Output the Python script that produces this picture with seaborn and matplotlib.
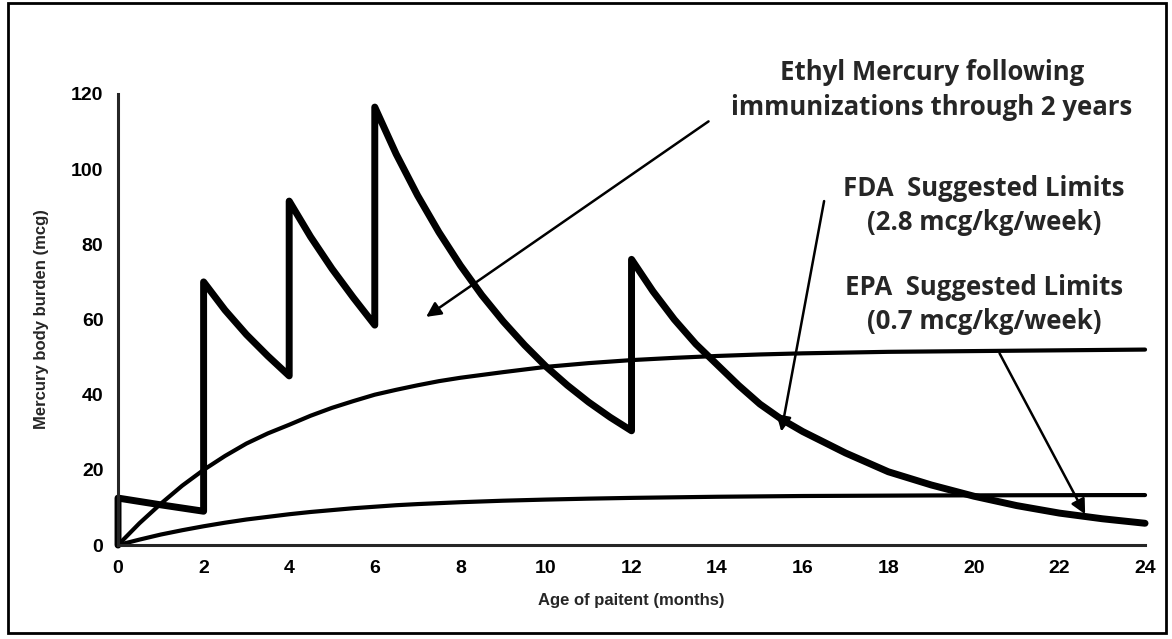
import seaborn as sns
import matplotlib.pyplot as plt
from matplotlib.patches import Rectangle

# ethyl mercury burden (vertical jumps at each immunization)
ethyl_months = [0, 0, 1, 2, 2, 2.5, 3, 3.5, 4, 4, 4.5, 5, 5.5, 6, 6, 6.5, 7, 7.5, 8, 8.5, 9, 9.5,
                10, 10.5, 11, 11.5, 12, 12, 12.5, 13, 13.5, 14, 14.5, 15, 15.5, 16, 17, 18,
                19, 20, 21, 22, 23, 24]
ethyl_mcg = [0, 12.5, 10.7, 9, 70, 62.5, 56, 50.3, 45, 91.5, 82, 73.5, 65.8, 58.5, 116.5, 104, 93,
             83.2, 74.4, 66.5, 59.5, 53.2, 47.5, 42.5, 38, 34, 30.4, 76, 67.5, 60, 53.5, 48,
             42.5, 37.5, 33.5, 30.2, 24.5, 19.5, 16, 13, 10.5, 8.5, 7, 5.8]

# suggested limit curves
limit_months = [0, 0.5, 1, 1.5, 2, 2.5, 3, 3.5, 4, 4.5, 5, 5.5, 6, 6.5, 7, 7.5, 8,
                9, 10, 11, 12, 13, 14, 15, 16, 17, 18, 19, 20, 21, 22, 23, 24]
fda_mcg = [0, 5.8, 11, 15.8, 20, 23.7, 27, 29.7, 32, 34.4, 36.5, 38.3, 40, 41.3, 42.5, 43.6, 44.5,
           46, 47.4, 48.4, 49.2, 49.8, 50.3, 50.7, 51, 51.2, 51.4, 51.5, 51.6, 51.7, 51.8, 51.9, 52]
epa_mcg = [0, 1.45, 2.8, 3.95, 5, 5.95, 6.8, 7.5, 8.2, 8.8, 9.3, 9.8, 10.2, 10.6, 10.9, 11.15, 11.4,
           11.8, 12.1, 12.35, 12.55, 12.7, 12.85, 12.95, 13.05, 13.1, 13.15, 13.2, 13.22, 13.25,
           13.27, 13.29, 13.3]

xticks = list(range(0, 25, 2))
yticks = list(range(0, 121, 20))

sns.set_style('white')
tick_font = ['Liberation Sans Narrow', 'Liberation Sans', 'DejaVu Sans']
note_font = ['Open Sans', 'DejaVu Sans']

fig = plt.figure(figsize=(11.72, 6.39), dpi=100)
ax = fig.add_axes([0.1007, 0.147, 0.8763, 0.706])

sns.lineplot(x=limit_months, y=fda_mcg, ax=ax, color='black', lw=3, clip_on=False,
             solid_joinstyle='round')
sns.lineplot(x=limit_months, y=epa_mcg, ax=ax, color='black', lw=3, clip_on=False,
             solid_joinstyle='round')
sns.lineplot(x=ethyl_months, y=ethyl_mcg, ax=ax, color='black', lw=5,
             estimator=None, sort=False, clip_on=False, solid_joinstyle='round')

ax.set_xlim(0, 24)
ax.set_ylim(0, 120)
ax.set_xticks(xticks)
ax.set_yticks(yticks)
sns.despine(ax=ax)
for s in ['left', 'bottom']:
    ax.spines[s].set_linewidth(2.2)
ax.tick_params(direction='inout', length=9, width=2, pad=6, colors='black')
for lab in ax.get_xticklabels() + ax.get_yticklabels():
    lab.set_family(tick_font)
    lab.set_fontweight('bold')
    lab.set_fontsize(14)

ax.set_xlabel('Age of paitent (months)', family=tick_font, fontweight='bold', fontsize=12, labelpad=12)
ax.set_ylabel('Mercury body burden (mcg)', family=tick_font, fontweight='bold', fontsize=12, labelpad=16)

# callout labels
note = dict(ha='center', va='center', fontsize=18.5, family=note_font, fontweight='bold', linespacing=1.35)
fig.text(0.795, 0.859, 'Ethyl Mercury following\nimmunizations through 2 years', **note)
fig.text(0.8396, 0.678, 'FDA  Suggested Limits\n(2.8 mcg/kg/week)', **note)
fig.text(0.8396, 0.523, 'EPA  Suggested Limits\n(0.7 mcg/kg/week)', **note)

arrow = dict(arrowstyle='-|>', color='black', lw=1.8, mutation_scale=22, shrinkA=0, shrinkB=0)
ax.annotate('', xy=(7.2, 60.7), xytext=(13.8, 112.7), arrowprops=arrow, annotation_clip=False)
ax.annotate('', xy=(15.5, 30.2), xytext=(16.5, 91.5), arrowprops=arrow, annotation_clip=False)
ax.annotate('', xy=(22.6, 8.2), xytext=(20.6, 51), arrowprops=arrow, annotation_clip=False)

# frame around the whole figure
fig.patches.append(Rectangle((0.007, 0.009), 0.988, 0.986, transform=fig.transFigure,
                             fill=False, edgecolor='black', lw=2))

plt.savefig('out.png', dpi=100)
plt.close()
